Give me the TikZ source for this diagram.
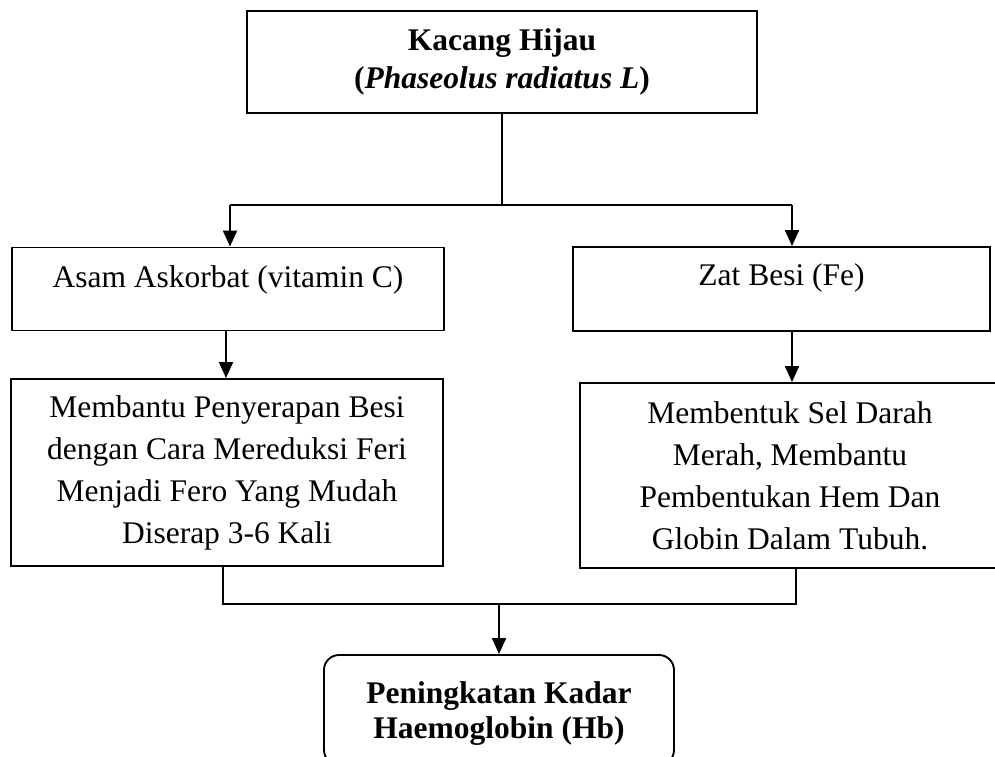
\documentclass[tikz,border=0pt]{standalone}
\usepackage{fontspec}
\setmainfont{Liberation Serif}
\usetikzlibrary{arrows.meta}

\tikzset{
  kotak/.style={draw=black, line width=1.9pt, align=center, inner sep=0pt,
    font=\fontsize{31.5}{42}\selectfont},
  panah/.style={-{Triangle[length=16pt,width=14pt]}, line width=1.9pt},
  garis/.style={line width=1.9pt}
}
\newcommand{\naik}[2]{\raisebox{#1}[\height][\depth]{#2}}

\begin{document}
\begin{tikzpicture}[x=1pt, y=-1pt]
\useasboundingbox (0,0) rectangle (995,756);

\def\xa{502};
\def\xl{228};
\def\xr{790};

\def\ya{62};
\def\yb{289};
\def\yd{710};

\node[kotak, minimum width=510pt, minimum height=102pt,
  font=\fontsize{31.5}{38}\selectfont\bfseries] (kacang) at (\xa, \ya)
  {Kacang Hijau\\(\textit{Phaseolus radiatus L})};
\node[kotak, minimum width=432pt, minimum height=83pt] (asam) at (\xl, \yb)
  {\naik{9pt}{Asam Askorbat (vitamin C)}};
\node[kotak, minimum width=417pt, minimum height=84pt] (besi) at (781.5, \yb)
  {\naik{11pt}{Zat Besi (Fe)}};
\node[kotak, minimum width=432pt, minimum height=187pt] (bantu) at (227, 472.5)
  {Membantu Penyerapan Besi\\dengan Cara Mereduksi Feri\\Menjadi Fero Yang Mudah\\Diserap 3-6 Kali};
\node[kotak, minimum width=420pt, minimum height=185pt] (bentuk) at (\xr, 475.5)
  {Membentuk Sel Darah\\Merah, Membantu\\Pembentukan Hem Dan\\Globin Dalam Tubuh.};
\node[kotak, rounded corners=15pt, minimum width=350pt, minimum height=110pt,
  font=\fontsize{31.5}{36}\selectfont\bfseries] (hb) at (499, \yd)
  {\naik{-4pt}{Peningkatan Kadar}\\\naik{-3pt}{Haemoglobin (Hb)}};

\coordinate (cabangl) at (230, 205);
\coordinate (cabangr) at (792, 205);
\coordinate (gabungl) at (223, 604);
\coordinate (gabungr) at (796, 604);

\draw[garis] (kacang.south) -- (kacang.south |- cabangl);
\draw[garis] (cabangl) -- (cabangr);
\draw[panah] (cabangl) -- (cabangl |- asam.north);
\draw[panah] (cabangr) -- (cabangr |- besi.north);

\draw[panah] (asam.south -| 226,0) -- (bantu.north -| 226,0);
\draw[panah] (besi.south -| cabangr) -- (bentuk.north -| cabangr);

\draw[garis] (bantu.south -| gabungl) -- (gabungl) -- (gabungr) -- (bentuk.south -| gabungr);
\draw[panah] (hb.north |- gabungl) -- (hb.north);
\end{tikzpicture}
\end{document}
